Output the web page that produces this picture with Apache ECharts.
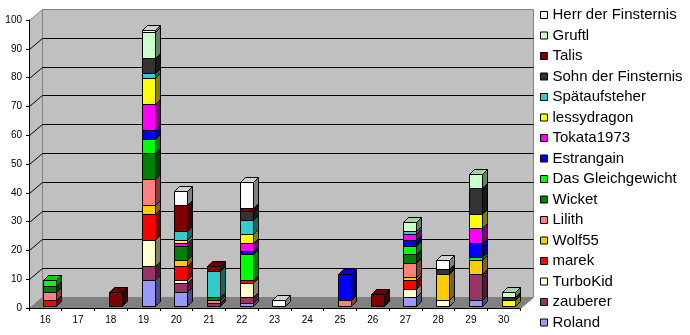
<!DOCTYPE html>
<html><head><meta charset="utf-8">
<script src="https://cdn.jsdelivr.net/npm/echarts@6/dist/echarts.min.js"></script>
<style>html,body{margin:0;padding:0;background:#fff}#c{width:690px;height:335px}</style>
</head><body><div id="c"></div>
<script>
// categories (days)
const categories = ['16','17','18','19','20','21','22','23','24','25','26','27','28','29','30'];
const valueTicks = [0,10,20,30,40,50,60,70,80,90,100];

// series values, one per category (16..30), stacked bottom -> top
const roland        = [0,0,0,9,5,0,1,0,0,0,0,3,0,2,0];
const zauberer      = [0,0,0,5,3,1,2,0,0,0,0,0,0,9,0];
const turboKid      = [0,0,0,9,1,0,5,0,0,0,0,3,2,0,0];
const marek         = [2,0,0,9,5,0,1,0,0,0,0,3,0,0,0];
const wolf55        = [0,0,0,3,2,0,0,0,0,0,0,1,9,5,0];
const lilith        = [3,0,0,9,0,1,0,0,0,2,0,5,0,0,0];
const wicket        = [2,0,0,9,5,1,0,0,0,0,0,3,0,0,0];
const gleichgewicht = [2,0,0,5,0,0,9,0,0,0,0,3,0,1,0];
const estrangain    = [0,0,0,3,0,0,1,0,0,9,0,2,0,5,0];
const tokata        = [0,0,0,9,1,0,3,0,0,0,0,2,0,5,0];
const lessydragon   = [0,0,0,9,1,0,3,0,0,0,0,0,0,5,2];
const spaetauf      = [0,0,0,2,3,9,5,0,0,0,0,1,0,0,0];
const sohn          = [0,0,0,5,0,0,3,0,0,0,0,0,2,9,1];
const talis         = [0,0,5,0,9,2,1,0,0,0,4,0,0,0,0];
const gruftl        = [0,0,0,9,0,0,0,0,0,0,0,3,0,5,2];
const herr          = [0,0,0,1,5,0,9,2,0,0,0,0,3,0,0];

const seriesNames = ['Roland','zauberer','TurboKid','marek','Wolf55','Lilith','Wicket',
  'Das Gleichgewicht','Estrangain','Tokata1973','lessydragon','Spätaufsteher',
  'Sohn der Finsternis','Talis','Gruftl','Herr der Finsternis'];
const seriesValues = [roland,zauberer,turboKid,marek,wolf55,lilith,wicket,gleichgewicht,
  estrangain,tokata,lessydragon,spaetauf,sohn,talis,gruftl,herr];
const seriesColors = ['#9999FF','#993366','#FFFFCC','#FF0000','#FFCC00','#FF8080','#008000',
  '#00FF00','#0000FF','#FF00FF','#FFFF00','#33CCCC','#333333','#800000','#CCFFCC','#FFFFFF'];

function shade(hex, f) {
  const n = parseInt(hex.slice(1), 16);
  const r = Math.round(((n >> 16) & 255) * f), g = Math.round(((n >> 8) & 255) * f), b = Math.round((n & 255) * f);
  return 'rgb(' + r + ',' + g + ',' + b + ')';
}

const DX = 5, DY = -5;      // bar depth
const WX = 13, WY = -11;    // wall depth

function renderBar(params, api) {
  const ci = api.value(0), lo = api.value(1), hi = api.value(2);
  if (!(hi > lo)) return null;
  const p0 = api.coord([ci, lo]), p1 = api.coord([ci, hi]);
  const bw = api.size([1, 0])[0];
  const xl = Math.round(p0[0] - 0.063 * bw) + 0.5;
  const xr = xl + Math.round(0.41 * bw);
  const yb = Math.round(p0[1] - 2) + 0.5;
  const yt = Math.round(p1[1] - 2) + 0.5;
  const c = api.visual('color');
  const st = { stroke: '#000', lineWidth: 1 };
  return {
    type: 'group',
    children: [
      { type: 'polygon', shape: { points: [[xr, yb], [xr + DX, yb + DY], [xr + DX, yt + DY], [xr, yt]] },
        style: Object.assign({ fill: shade(c, 0.5) }, st) },
      { type: 'polygon', shape: { points: [[xl, yt], [xr, yt], [xr + DX, yt + DY], [xl + DX, yt + DY]] },
        style: Object.assign({ fill: shade(c, 0.82) }, st) },
      { type: 'rect', shape: { x: xl, y: yt, width: xr - xl, height: yb - yt },
        style: Object.assign({ fill: c }, st) }
    ]
  };
}

function renderWalls(params, api) {
  const cs = params.coordSys;
  const x0 = Math.round(cs.x) + 0.5, x1 = Math.round(cs.x + cs.width) + 0.5;
  const yTop = Math.round(cs.y) + 0.5, yBot = Math.round(cs.y + cs.height) + 0.5;
  const children = [
    { type: 'polygon', shape: { points: [[x0, yTop], [x0 + WX, yTop + WY], [x0 + WX, yBot + WY], [x0, yBot]] },
      style: { fill: '#C0C0C0', stroke: '#808080', lineWidth: 1 } },
    { type: 'rect', shape: { x: x0 + WX, y: yTop + WY, width: x1 - x0, height: yBot - yTop },
      style: { fill: '#C0C0C0', stroke: '#808080', lineWidth: 1 } },
    { type: 'polygon', shape: { points: [[x0, yBot], [x0 + WX, yBot + WY], [x1 + WX, yBot + WY], [x1, yBot]] },
      style: { fill: '#808080', stroke: '#808080', lineWidth: 1 } }
  ];
  valueTicks.forEach(function (v) {
    if (v === valueTicks[0] || v === valueTicks[valueTicks.length - 1]) return;
    const y = Math.round(api.coord([0, v])[1]) + 0.5;
    children.push({ type: 'polyline', shape: { points: [[x0, y], [x0 + WX, y + WY], [x1 + WX, y + WY]] },
      style: { stroke: '#000', lineWidth: 1, fill: null } });
  });
  return { type: 'group', children: children };
}

const series = [{
  type: 'custom', name: '__walls', silent: true, z: 1,
  renderItem: renderWalls, data: [[0, 0]], encode: { x: 0, y: 1 }
}];
const base = categories.map(function () { return 0; });
seriesNames.forEach(function (name, si) {
  const vals = seriesValues[si];
  const data = vals.map(function (v, i) {
    const d = [i, base[i], base[i] + v];
    base[i] += v;
    return d;
  });
  series.push({
    type: 'custom', name: name, z: 2, silent: true,
    itemStyle: { color: seriesColors[si] },
    renderItem: renderBar, data: data, encode: { x: 0, y: [1, 2] }
  });
});

const chart = echarts.init(document.getElementById('c'), null, { renderer: 'canvas' });
chart.setOption({
  animation: false,
  backgroundColor: '#ffffff',
  textStyle: { fontFamily: 'Liberation Sans' },
  grid: { left: 29, top: 20, width: 491, height: 288, containLabel: false },
  xAxis: {
    type: 'category', data: categories, boundaryGap: true, z: 5,
    axisLine: { show: true, lineStyle: { color: '#000', width: 1 } },
    axisTick: { show: true, interval: 0, length: 3, lineStyle: { color: '#000' } },
    axisLabel: { interval: 0, fontSize: 10, color: '#000', margin: 7, fontFamily: 'Liberation Sans' },
    splitLine: { show: false }
  },
  yAxis: {
    type: 'value', min: valueTicks[0], max: valueTicks[valueTicks.length - 1],
    interval: valueTicks[1] - valueTicks[0], z: 5,
    axisLine: { show: true, lineStyle: { color: '#000', width: 1 } },
    axisTick: { show: true, length: 3, lineStyle: { color: '#000' } },
    axisLabel: { fontSize: 10, color: '#000', margin: 7, fontFamily: 'Liberation Sans' },
    splitLine: { show: false }
  },
  legend: {
    data: seriesNames.slice().reverse(),
    orient: 'vertical', left: 540, top: 7.5, height: 400, padding: 0,
    itemWidth: 7, itemHeight: 7, itemGap: 5.5, icon: 'rect',
    itemStyle: { borderColor: '#000', borderWidth: 1 },
    textStyle: { fontSize: 15, lineHeight: 15, color: '#000', fontFamily: 'Liberation Sans' },
    selectedMode: false
  },
  series: series
});
</script>
</body></html>
